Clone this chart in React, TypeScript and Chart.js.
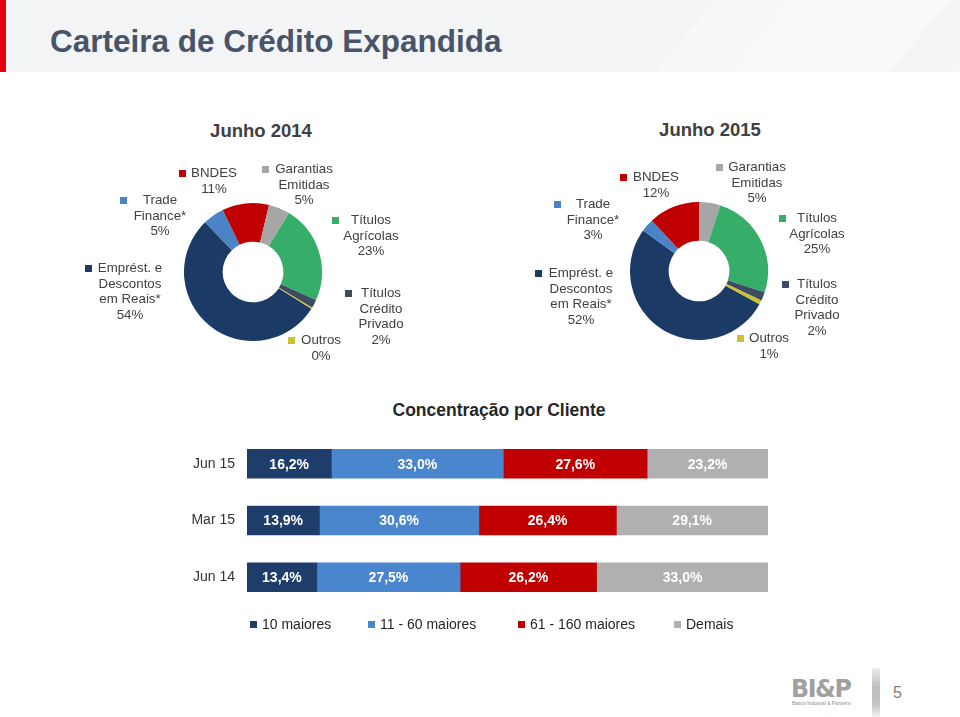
import React, { useEffect, useRef } from "react";
import { Chart, registerables } from "chart.js";
Chart.register(...registerables);

// ---------- Doughnut data ----------
const segmentNames = [
  "Emprést. e Descontos em Reais*",
  "Trade Finance*",
  "BNDES",
  "Garantias Emitidas",
  "Títulos Agrícolas",
  "Títulos Crédito Privado",
  "Outros",
];
const segmentLines = [
  ["Emprést. e", "Descontos", "em Reais*"],
  ["Trade", "Finance*"],
  ["BNDES"],
  ["Garantias", "Emitidas"],
  ["Títulos", "Agrícolas"],
  ["Títulos", "Crédito", "Privado"],
  ["Outros"],
];
const values2014 = [54, 5, 11, 5, 23, 2, 0.3];
const labels2014 = ["54%", "5%", "11%", "5%", "23%", "2%", "0%"];
const values2015 = [52, 3, 12, 5, 25, 2, 1];
const labels2015 = ["52%", "3%", "12%", "5%", "25%", "2%", "1%"];

// ---------- Bar data ----------
const barCategories = ["Jun 15", "Mar 15", "Jun 14"];
const seriesNames = ["10 maiores", "11 - 60 maiores", "61 - 160 maiores", "Demais"];
const top10 = [16.2, 13.9, 13.4];
const top11to60 = [33.0, 30.6, 27.5];
const top61to160 = [27.6, 26.4, 26.2];
const demais = [23.2, 29.1, 33.0];

// ---------- Styles / layout ----------
const segmentColors = ["#1B3A66", "#4A84C6", "#C00000", "#A6A6A6", "#36AE6A", "#3E4C63", "#C9C22E"];
const barColors = ["#1F3D6B", "#4A86CE", "#C00000", "#B0B0B0"];
const FONT = "'Liberation Sans', Arimo, Arial, Helvetica, sans-serif";
const TEXT = "#404040";

// label layout: [textCenterX, firstLineCenterY, markerCenterX]
const layout2014 = [
  [130, 268, 88],
  [160, 200, 123],
  [214, 173, 182],
  [304, 169, 265],
  [371, 220, 335],
  [381, 293, 348],
  [321, 340, 291],
];
const layout2015 = [
  [581, 273, 538],
  [593, 204, 557],
  [656, 177, 623],
  [757, 167, 719],
  [817, 218, 782],
  [817, 284, 785],
  [769, 338, 740],
];

function Doughnut({ values, rotation, cx, cy }: { values: number[]; rotation: number; cx: number; cy: number }) {
  const ref = useRef<HTMLCanvasElement>(null);
  useEffect(() => {
    if (!ref.current) return;
    const chart = new Chart(ref.current, {
      type: "doughnut",
      data: {
        labels: segmentNames,
        datasets: [
          {
            data: values,
            backgroundColor: segmentColors,
            borderWidth: 0,
          },
        ],
      },
      options: {
        responsive: false,
        animation: false,
        rotation,
        radius: 69,
        cutout: 33,
        plugins: { legend: { display: false }, tooltip: { enabled: false } },
        layout: { padding: 0 },
      },
    });
    return () => chart.destroy();
  }, []);
  const size = 150;
  return (
    <canvas
      ref={ref}
      width={size}
      height={size}
      style={{ position: "absolute", left: cx - size / 2, top: cy - size / 2, width: size, height: size }}
    />
  );
}

function DoughnutLabels({ layout, pcts }: { layout: number[][]; pcts: string[] }) {
  const out: any[] = [];
  layout.forEach((pos, i) => {
    const [tx, ty, mx] = pos;
    const lines = [...segmentLines[i], pcts[i]];
    lines.forEach((ln, j) => {
      out.push(
        <div
          key={`t${i}-${j}`}
          style={{
            position: "absolute",
            left: tx - 80,
            width: 160,
            top: ty - 8 + j * 15.7,
            height: 16,
            lineHeight: "16px",
            textAlign: "center",
            fontSize: 13.3,
            color: TEXT,
            fontFamily: FONT,
            whiteSpace: "nowrap",
          }}
        >
          {ln}
        </div>
      );
    });
    out.push(
      <div
        key={`m${i}`}
        style={{
          position: "absolute",
          left: mx - 3.5,
          top: ty - 3.5,
          width: 7,
          height: 7,
          background: segmentColors[i],
        }}
      />
    );
  });
  return <>{out}</>;
}

const dataLabelPlugin = {
  id: "segLabels",
  afterDatasetsDraw(chart: any) {
    const ctx = chart.ctx;
    ctx.save();
    ctx.font = `bold 14px ${FONT}`;
    ctx.fillStyle = "#FFFFFF";
    ctx.textAlign = "center";
    ctx.textBaseline = "middle";
    chart.data.datasets.forEach((ds: any, di: number) => {
      const meta = chart.getDatasetMeta(di);
      meta.data.forEach((bar: any, i: number) => {
        const v = ds.data[i];
        const x = (bar.x + bar.base) / 2;
        ctx.fillText(v.toFixed(1).replace(".", ",") + "%", x, bar.y + 1);
      });
    });
    ctx.restore();
  },
};

function BarChart() {
  const ref = useRef<HTMLCanvasElement>(null);
  useEffect(() => {
    if (!ref.current) return;
    const series = [top10, top11to60, top61to160, demais];
    const chart = new Chart(ref.current, {
      type: "bar",
      data: {
        labels: barCategories,
        datasets: series.map((d, i) => ({
          label: seriesNames[i],
          data: d,
          backgroundColor: barColors[i],
          borderWidth: 0,
          barThickness: 29,
        })),
      },
      options: {
        responsive: false,
        animation: false,
        indexAxis: "y",
        layout: { padding: 0 },
        scales: {
          x: { stacked: true, min: 0, max: 100, display: false },
          y: {
            stacked: true,
            grid: { display: false },
            border: { display: false },
            ticks: { color: "#333333", font: { size: 14, family: FONT }, padding: 4 },
            afterFit: (scale: any) => {
              scale.width = 77;
            },
          },
        },
        plugins: { legend: { display: false }, tooltip: { enabled: false } },
      },
      plugins: [dataLabelPlugin],
    });
    return () => chart.destroy();
  }, []);
  return (
    <canvas
      ref={ref}
      width={598}
      height={195}
      style={{ position: "absolute", left: 170, top: 423, width: 598, height: 195 }}
    />
  );
}

const legendMarkerX = [253.5, 371.5, 521.5, 677.5];

export default function App() {
  useEffect(() => {
    document.body.style.margin = "0";
  }, []);
  return (
    <div
      style={{
        position: "absolute",
        left: 0,
        top: 0,
        width: 960,
        height: 717,
        background: "#FFFFFF",
        overflow: "hidden",
        fontFamily: FONT,
      }}
    >
      {/* header */}
      <div
        style={{
          position: "absolute",
          left: 0,
          top: 0,
          width: 960,
          height: 72,
          background:
            "linear-gradient(130deg, #F2F4F6 0%, #F3F4F6 70%, #F7F8F9 70.2%, #F8F9FA 93%, #F3F4F5 93.2%, #F5F6F7 100%)",
        }}
      />
      <div style={{ position: "absolute", left: 0, top: 0, width: 6, height: 72, background: "#E3000F" }} />
      <div
        style={{
          position: "absolute",
          left: 50,
          top: 23,
          fontSize: 31.5,
          fontWeight: "bold",
          color: "#4A5468",
          whiteSpace: "nowrap",
          lineHeight: "36px",
        }}
      >
        Carteira de Crédito Expandida
      </div>

      {/* doughnut titles */}
      <div style={{ position: "absolute", left: 161, width: 200, top: 120, textAlign: "center", fontSize: 18.5, fontWeight: "bold", color: TEXT, lineHeight: "22px" }}>
        Junho 2014
      </div>
      <div style={{ position: "absolute", left: 610, width: 200, top: 119, textAlign: "center", fontSize: 18.5, fontWeight: "bold", color: TEXT, lineHeight: "22px" }}>
        Junho 2015
      </div>

      <Doughnut values={values2014} rotation={122.2} cx={253} cy={271.5} />
      <Doughnut values={values2015} rotation={118.8} cx={699} cy={271} />
      <DoughnutLabels layout={layout2014} pcts={labels2014} />
      <DoughnutLabels layout={layout2015} pcts={labels2015} />

      {/* bar chart */}
      <div style={{ position: "absolute", left: 349, width: 300, top: 399, textAlign: "center", fontSize: 17.5, fontWeight: "bold", color: "#262626", lineHeight: "22px" }}>
        Concentração por Cliente
      </div>
      <BarChart />
      {seriesNames.map((n, i) => (
        <React.Fragment key={n}>
          <div style={{ position: "absolute", left: legendMarkerX[i] - 3.5, top: 621, width: 7, height: 7, background: barColors[i] }} />
          <div style={{ position: "absolute", left: legendMarkerX[i] + 8.5, top: 616, fontSize: 14, lineHeight: "17px", color: "#262626", whiteSpace: "nowrap" }}>
            {n}
          </div>
        </React.Fragment>
      ))}

      {/* footer logo */}
      <div style={{ position: "absolute", left: 791, top: 677, fontSize: 25, fontWeight: 900, color: "#A0A0A0", letterSpacing: -1.5, lineHeight: "24px", fontFamily: "'DejaVu Sans', sans-serif", transform: "scaleX(0.95)", transformOrigin: "left" }}>
        BI&amp;P
      </div>
      <div style={{ position: "absolute", left: 792, top: 701, fontSize: 4.6, fontWeight: "bold", color: "#A8A8A8", whiteSpace: "nowrap", lineHeight: "5px" }}>
        Banco Indusval &amp; Partners
      </div>
      <div
        style={{
          position: "absolute",
          left: 872,
          top: 668,
          width: 8,
          height: 49,
          background: "linear-gradient(180deg, #EDEDED 0%, #BDBDBD 40%, #C4C4C4 75%, #F2F2F2 100%)",
        }}
      />
      <div style={{ position: "absolute", left: 893, top: 684, fontSize: 16, color: "#808080", lineHeight: "18px" }}>5</div>
    </div>
  );
}
